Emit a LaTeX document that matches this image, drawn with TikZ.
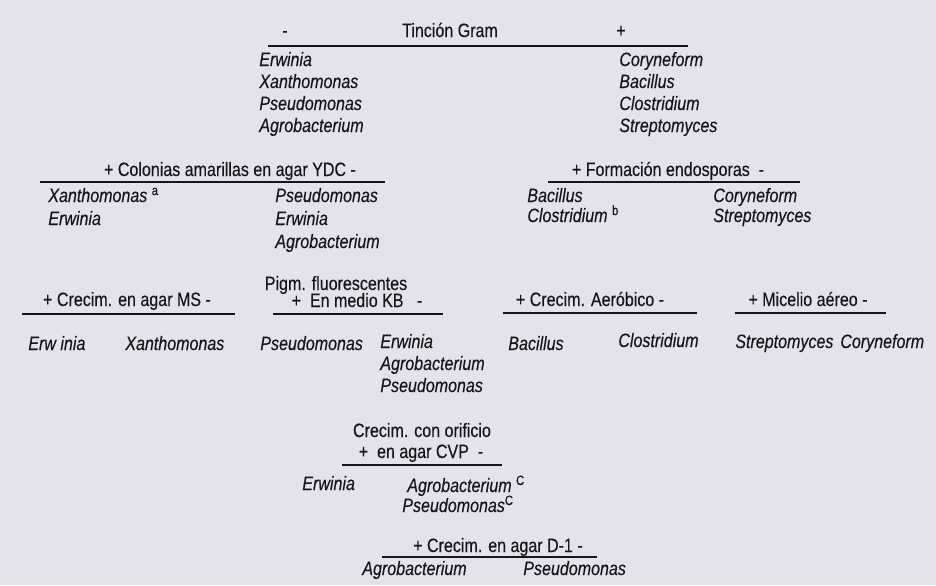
\documentclass[tikz,border=0pt]{standalone}
\usepackage{fontspec}
\setmainfont[FakeStretch=0.83,FakeBold=0.3]{Liberation Sans}
\usetikzlibrary{positioning}
\definecolor{paper}{RGB}{228,227,235}
\definecolor{ink}{RGB}{22,22,26}
\newcommand{\fn}[1]{\textsuperscript{\upshape #1}}

\begin{document}
\begin{tikzpicture}[
  x=0.02cm, y=-0.02cm,
  hdr/.style={anchor=base, inner sep=0pt, font=\fontsize{11}{13}\selectfont, text=ink},
  gen/.style={anchor=base west, inner sep=0pt,
              font=\fontsize{11}{13}\selectfont\itshape, text=ink},
  rule/.style={draw=ink, line width=1pt}
]
  \fill[paper] (0,0) rectangle (936,585);
  \useasboundingbox (0,0) rectangle (936,585);

  % Gram stain
  \node[hdr] (gneg) at (285,37)  {-};
  \node[hdr] (gram) at (450,37)  {Tinción Gram};
  \node[hdr] (gpos) at (621,37)  {+};
  \draw[rule] (268,46) -- (688,46);
  \foreach \g [count=\i] in {Erwinia,Xanthomonas,Pseudomonas,Agrobacterium}
    \node[gen] (gneg\i) at (259,{66+22*(\i-1)}) {\g};
  \foreach \g [count=\i] in {Coryneform,Bacillus,Clostridium,Streptomyces}
    \node[gen] (gpos\i) at (619,{66+22*(\i-1)}) {\g};

  % YDC
  \node[hdr] (ydc) at (230,176) {+ Colonias amarillas en agar YDC -};
  \draw[rule] (40,182) -- (385,182);
  \foreach \g [count=\i] in {{Xanthomonas \fn{a}},Erwinia}
    \node[gen] (ydcpos\i) at (48,{202+23*(\i-1)}) {\g};
  \foreach \g [count=\i] in {Pseudomonas,Erwinia,Agrobacterium}
    \node[gen] (ydcneg\i) at (275,{202+23*(\i-1)}) {\g};

  % endospores
  \node[hdr] (endo) at (668,176) {+ Formación endosporas~ -};
  \draw[rule] (548,182) -- (800,182);
  \foreach \g [count=\i] in {Bacillus,{Clostridium \fn{b}}}
    \node[gen] (endopos\i) at (527,{202+20*(\i-1)}) {\g};
  \foreach \g [count=\i] in {Coryneform,Streptomyces}
    \node[gen] (endoneg\i) at (713,{202+20*(\i-1)}) {\g};

  % MS agar
  \node[hdr] (ms) at (127,306) {+ Crecim. en agar MS -};
  \draw[rule] (22,314) -- (235,314);
  \node[gen] (mspos) at (28,350)  {Erw inia};
  \node[gen] (msneg) at (125,350) {Xanthomonas};

  % KB medium
  \node[hdr] (kbtop) at (336,290) {Pigm. fluorescentes};
  \node[hdr] (kb)    at (357,307) {+~ En medio KB~~ -};
  \draw[rule] (273,314) -- (443,314);
  \node[gen] (kbpos) at (260,350) {Pseudomonas};
  \foreach \g [count=\i] in {Erwinia,Agrobacterium,Pseudomonas}
    \node[gen] (kbneg\i) at (380,{348+22*(\i-1)}) {\g};

  % aerobic growth
  \node[hdr] (aer) at (590,306) {+ Crecim. Aeróbico -};
  \draw[rule] (503,313) -- (697,313);
  \node[gen] (aerpos) at (508,350) {Bacillus};
  \node[gen] (aerneg) at (618,347) {Clostridium};

  % aerial mycelium
  \node[hdr] (mic) at (808,306) {+ Micelio aéreo -};
  \draw[rule] (735,313) -- (886,313);
  \node[gen] (micpos) at (735,348) {Streptomyces};
  \node[gen] (micneg) at (840,348) {Coryneform};

  % CVP agar
  \node[hdr] (cvptop) at (422,437) {Crecim. con orificio};
  \node[hdr] (cvp)    at (421,458) {+~ en agar CVP~ -};
  \draw[rule] (342,465) -- (502,465);
  \node[gen] (cvppos)  at (302,490) {Erwinia};
  \node[gen] (cvpneg1) at (407,492) {Agrobacterium \fn{C}};
  \node[gen] (cvpneg2) at (402,512) {Pseudomonas\fn{C}};

  % D-1 agar
  \node[hdr] (d1) at (498,552) {+ Crecim. en agar D-1 -};
  \draw[rule] (382,557) -- (597,557);
  \node[gen] (d1pos) at (362,575) {Agrobacterium};
  \node[gen] (d1neg) at (523,575) {Pseudomonas};
\end{tikzpicture}
\end{document}
